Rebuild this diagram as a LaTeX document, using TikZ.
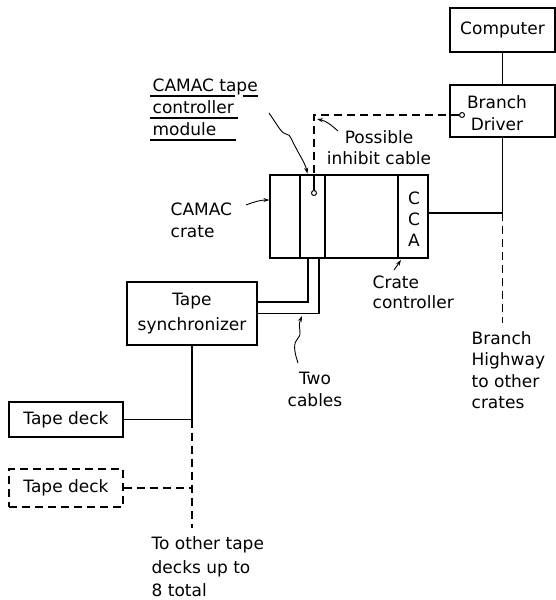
\documentclass[tikz,border=0pt]{standalone}
\usepackage{fontspec}
\setmainfont{DejaVu Sans}
\usetikzlibrary{arrows.meta, positioning, calc}

\begin{document}
\begin{tikzpicture}[x=1pt, y=-1pt, line width=1.3pt,
    box/.style={draw, rectangle, inner sep=0pt, align=center},
    cable/.style={line width=1.1pt, dash pattern=on 8pt off 5pt},
    port/.style={draw, circle, inner sep=0pt, minimum size=5pt, line width=1pt},
    pointer/.style={line width=0.9pt, -{Stealth[length=6pt,width=4pt]}},
    every node/.style={inner sep=0pt, font=\fontsize{17}{22}\selectfont}]
    \useasboundingbox (0,0) rectangle (556,600);

    % Computer and branch driver - right side
    \node[box, minimum width=105pt, minimum height=44pt] (comp) at (502.5,30) {Computer};
    \node[box, minimum width=105pt, minimum height=52pt] (bd) at (502.5,111) {};
    \node[align=center] (bdtext) at (497,113) {Branch\\Driver};
    \node[port] (bdport) at (462,115) {};
    \draw (comp.south) -- (bd.south |- comp.south) -- (bd.north);

    % CAMAC crate with tape controller module and CCA
    \node[box, minimum width=158pt, minimum height=83pt] (crate) at (349,216.5) {};
    \node[box, line width=2.8pt, minimum width=25pt, minimum height=83pt] (modul) at (312.5,216.5) {};
    \coordinate (ccatop) at (398,175);
    \coordinate (ccabot) at (398,258);
    \draw (ccatop) -- (ccabot);
    \node[align=center, font=\fontsize{17}{21}\selectfont] (cca) at (414,219) {C\\C\\A};
    \node[port] (modport) at (314,193) {};
    \draw (modport.north) -- (modport |- crate.north);

    % Possible inhibit cable
    \coordinate (inhcorner) at (314,115);
    \draw[cable] (bdport.west) -- (inhcorner) -- (inhcorner |- crate.north);
    \node[align=center, font=\fontsize{17}{21}\selectfont] (inhlbl) at (379,148) {Possible\\inhibit cable};
    \coordinate (inhtail) at (338,131);
    \draw[pointer] (inhtail) .. controls (330,124) and (326,121) .. ($(inhcorner)+(3,4)$);

    % Branch highway
    \coordinate (hwy) at (502.5,213);
    \coordinate (hwyend) at (502.5,323);
    \draw (crate.east |- hwy) -| (bd.south);
    \draw[cable] (hwy) -- (hwyend);
    \node[anchor=west, align=left, font=\fontsize{17}{21.5}\selectfont] (hwylbl) at (471,370) {Branch\\Highway\\to other\\crates};

    % Labels round the crate
    \node[anchor=north west, align=left] (modlbl) at (152,78) {CAMAC tape\\controller\\module};
    \draw (150,96) -- (235,96);
    \draw (243,96) -- (258,96);
    \draw (150,118) -- (238,118);
    \draw (150,140) -- (236,140);
    \coordinate (modtail) at (269,113);
    \draw[pointer] (modtail) .. controls (278,126) and (282,134) .. (286,134)
        .. controls (291,134) and (292,142) .. (296,148)
        .. controls (300,156) and (305,163) .. ($(modul.north)+(-5,0)$);

    \node[anchor=west, align=left] (cratelbl) at (170,220) {CAMAC\\crate};
    \coordinate (cratetail) at (246,205);
    \draw[pointer] (cratetail) .. controls (254,202) and (260,200) .. (crate.west |- 0,200);

    \node[anchor=north west, align=left, font=\fontsize{17}{20}\selectfont] (cclbl) at (372,275) {Crate\\controller};
    \coordinate (cctail) at (394,270);
    \draw[pointer] (cctail) -- ($(ccabot)+(3,2)$);

    % Tape synchronizer and the two cables
    \node[box, minimum width=130pt, minimum height=63pt, font=\fontsize{17}{25}\selectfont] (sync) at (192,313.5) {Tape\\synchronizer};
    \draw ([xshift=-4.5pt]modul.south) |- ([yshift=11.5pt]sync.east);
    \draw ([xshift=6.5pt]modul.south) |- (sync.east);
    \node[align=center] (twolbl) at (315,389) {Two\\cables};
    \coordinate (twotail) at (298,363);
    \draw[pointer] (twotail) .. controls (294,351) and (293,343) .. (298,338)
        .. controls (303,333) and (297,328) .. (302,316);

    % Tape decks
    \node[box, minimum width=114pt, minimum height=35pt] (deck) at (66,419.5) {Tape deck};
    \node[box, cable, minimum width=114pt, minimum height=38pt] (deckb) at (66,488) {Tape deck};
    \coordinate (deckjoin) at (sync.south |- deck.east);
    \coordinate (deckend) at (192,528);
    \draw (sync.south) -- (deckjoin) -- (deck.east);
    \draw[cable] (deckjoin) -- (deckend);
    \draw[cable] (deckb.east) -- (deckb.east -| deckjoin);
    \node[anchor=north west, align=left, font=\fontsize{17}{23.5}\selectfont] (otherlbl) at (151,536) {To other tape\\decks up to\\8 total};
\end{tikzpicture}
\end{document}
